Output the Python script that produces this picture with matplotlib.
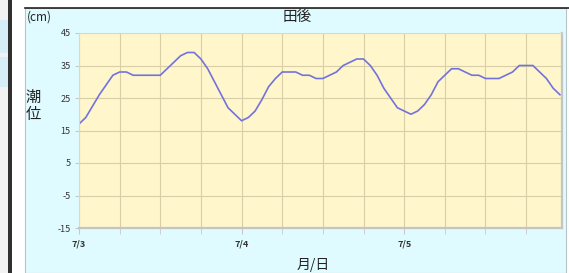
import matplotlib.pyplot as plt
from matplotlib.patches import Rectangle
from matplotlib.lines import Line2D
import numpy as np

plt.rcParams['font.family'] = ['Noto Sans CJK JP', 'DejaVu Sans']
plt.rcParams['axes.unicode_minus'] = False

# hourly tide level (cm), 7/3 00:00 .. 7/5 23:00
tide_cm = [17, 19, 22.5, 26, 29, 32, 33, 33, 32, 32, 32, 32,
           32, 34, 36, 38, 39, 39, 37, 34, 30, 26, 22, 20,
           18, 19, 21, 24.5, 28.5, 31, 33, 33, 33, 32, 32, 31,
           31, 32, 33, 35, 36, 37, 37, 35, 32, 28, 25, 22,
           21, 20, 21, 23, 26, 30, 32, 34, 34, 33, 32, 32,
           31, 31, 31, 32, 33, 35, 35, 35, 33, 31, 28, 26]
hours = np.arange(len(tide_cm))
day_labels = ['7/3', '7/4', '7/5']
y_ticks = [-15, -5, 5, 15, 25, 35, 45]

W, H = 569, 273
fig = plt.figure(figsize=(W / 100, H / 100), dpi=100)
fig.patch.set_facecolor('white')

def px(x0, y0, w, h, **kw):
    # rectangle in pixel coords (top-left origin), kept behind the axes
    fig.patches.append(Rectangle((x0 / W, 1 - (y0 + h) / H), w / W, h / H,
                                 transform=fig.transFigure, zorder=-5, **kw))

# outer page bits on the left
px(0, 0, 8, H, facecolor='#f2f2f2', edgecolor='none')
px(0, 20, 8, 33, facecolor='#d6eef8', edgecolor='none')
px(0, 57, 8, 30, facecolor='#d6eef8', edgecolor='none')
px(8, 0, 4, H, facecolor='#303030', edgecolor='none')
px(12, 0, 13, H, facecolor='white', edgecolor='none')
# chart panel
px(25, 8, 541, H - 8, facecolor='#e0fbff', edgecolor='#b8c4c8', linewidth=0.8)
fig.lines.append(Line2D([25 / W, 1], [1 - 7.5 / H, 1 - 7.5 / H],
                        transform=fig.transFigure, color='#222222', linewidth=1.2))

ax = fig.add_axes([79 / W, 45 / H, 483 / W, 195 / H])
ax.set_zorder(2)
ax.set_facecolor('#fff6cc')
ax.plot(hours, tide_cm, color='#7272dc', linewidth=1.2, solid_joinstyle='round')

ax.set_xlim(0, 71.3)
ax.set_ylim(-15, 45)
ax.set_yticks(y_ticks)
ax.set_xticks([0, 24, 48])
ax.set_xticklabels(day_labels, fontsize=6.5, fontweight='bold', color='#333333')
ax.set_xticks(np.arange(0, 72, 6), minor=True)
ax.tick_params(axis='x', which='both', direction='out', length=4, color='#c8c8c8',
               pad=4)
ax.tick_params(axis='y', direction='out', length=3, color='#c8c8c8',
               labelsize=6.5, labelcolor='#333333', pad=3)
ax.grid(True, which='both', color='#d8cfa6', linewidth=0.8)
ax.set_axisbelow(True)
for side in ['top', 'left']:
    ax.spines[side].set_color('#d8d8d0')
    ax.spines[side].set_linewidth(0.8)
for side in ['bottom', 'right']:
    ax.spines[side].set_color('#c4c4c4')
    ax.spines[side].set_linewidth(1.6)

fig.text(297 / W, 1 - 17 / H, '田後', fontsize=10.5, ha='center', va='center',
         color='#222222')
fig.text(27 / W, 1 - 17 / H, '(cm)', fontsize=8.5, ha='left', va='center',
         color='#222222')
fig.text(33 / W, 1 - 106 / H, '潮\n位', fontsize=11, ha='center', va='center',
         color='#222222', linespacing=0.95)
fig.text(313 / W, 1 - 265 / H, '月/日', fontsize=10, ha='center', va='center',
         color='#222222')

fig.savefig('out.png', dpi=100, facecolor=fig.get_facecolor())
